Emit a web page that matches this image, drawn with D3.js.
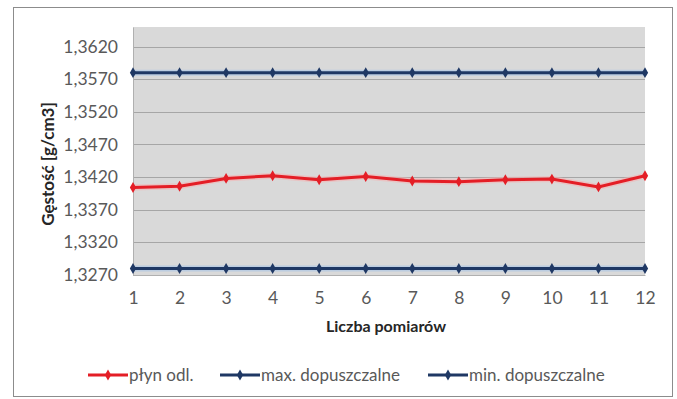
<!DOCTYPE html>
<html><head><meta charset="utf-8">
<script src="https://cdn.jsdelivr.net/npm/d3@7"></script>
<style>
html,body{margin:0;padding:0;background:#fff;}
svg{display:block;font-family:Lato,"Open Sans",sans-serif;}
</style></head>
<body><svg id="c" width="677" height="399"></svg>
<script>
const categories = [1,2,3,4,5,6,7,8,9,10,11,12];
const plynOdl = [1.3404,1.3406,1.3418,1.3422,1.3416,1.3421,1.3414,1.3413,1.3416,1.3417,1.3405,1.3422];
const maxDop = [1.3580,1.3580,1.3580,1.3580,1.3580,1.3580,1.3580,1.3580,1.3580,1.3580,1.3580,1.3580];
const minDop = [1.3280,1.3280,1.3280,1.3280,1.3280,1.3280,1.3280,1.3280,1.3280,1.3280,1.3280,1.3280];
const yTicks = [1.3270,1.3320,1.3370,1.3420,1.3470,1.3520,1.3570,1.3620];
const yDomain = [1.3270,1.3650];
const seriesNames = ["płyn odl.","max. dopuszczalne","min. dopuszczalne"];
const seriesColors = ["#e41e26","#1f3864","#1f3864"];

const svg = d3.select("#c");
const L=133,R=645,T=27,B=275;
svg.append("rect").attr("x",13.5).attr("y",7.5).attr("width",659).attr("height",389)
  .attr("fill","#fff").attr("stroke","#8c8c8c").attr("stroke-width",1);

const x = d3.scalePoint().domain(categories).range([L,R]);
const y = d3.scaleLinear().domain(yDomain).range([B,T]);

svg.append("rect").attr("x",L).attr("y",T).attr("width",R-L).attr("height",B-T).attr("fill","#d9d9d9");
svg.append("g").selectAll("line").data(yTicks).join("line")
  .attr("x1",L).attr("x2",R).attr("y1",d=>Math.round(y(d))+0.5).attr("y2",d=>Math.round(y(d))+0.5)
  .attr("stroke","#a6a6a6").attr("stroke-width",1.2);

const fmt = d => d.toFixed(4).replace(".",",");
const yAxis = svg.append("g").attr("transform",`translate(${L},0)`)
  .call(d3.axisLeft(y).tickValues(yTicks).tickFormat(fmt).tickSize(0).tickPadding(15));
yAxis.select(".domain").attr("stroke","#b0b0b0");
yAxis.selectAll("text").attr("font-size",17.5).attr("fill","#595959").attr("font-family","Lato");

const xAxis = svg.append("g").attr("transform",`translate(0,${B})`)
  .call(d3.axisBottom(x).tickSize(0).tickPadding(17));
xAxis.select(".domain").attr("stroke","#b0b0b0");
xAxis.selectAll("text").attr("font-size",17.5).attr("fill","#595959").attr("font-family","Lato");

svg.append("text").attr("x",386).attr("y",332).attr("text-anchor","middle")
  .attr("font-size",16).attr("font-weight","bold").attr("fill","#262626").text("Liczba pomiarów");
svg.append("text").attr("transform","translate(54,164) rotate(-90)").attr("text-anchor","middle")
  .attr("font-size",17).attr("font-weight","bold").attr("fill","#262626").text("Gęstość [g/cm3]");

const all = [plynOdl,maxDop,minDop];
const line = d3.line().x((d,i)=>x(categories[i])).y(d=>y(d));
const glows = ["#f4b4b4","#a9c4e6","#a9c4e6"];
all.forEach((s,k)=>{
  svg.append("path").datum(s).attr("d",line).attr("fill","none")
    .attr("stroke",glows[k]).attr("stroke-width",6).attr("stroke-opacity",0.6);
  svg.append("path").datum(s).attr("d",line).attr("fill","none")
    .attr("stroke",seriesColors[k]).attr("stroke-width",3);
  svg.append("g").selectAll("path").data(s).join("path")
    .attr("transform",(d,i)=>`translate(${x(categories[i])},${y(d)})`)
    .attr("d",d3.symbol(d3.symbolDiamond,34)).attr("fill",seriesColors[k]);
});

const legX=[88,220,428];
const lg = svg.append("g");
seriesNames.forEach((n,k)=>{
  const g = lg.append("g").attr("transform",`translate(${legX[k]},375)`);
  g.append("line").attr("x1",0).attr("x2",40).attr("stroke",seriesColors[k]).attr("stroke-width",3);
  g.append("path").attr("transform","translate(20,0)").attr("d",d3.symbol(d3.symbolDiamond,34)).attr("fill",seriesColors[k]);
  g.append("text").attr("x",41).attr("y",6).attr("font-size",17).attr("fill","#595959").text(n);
});
</script></body></html>
